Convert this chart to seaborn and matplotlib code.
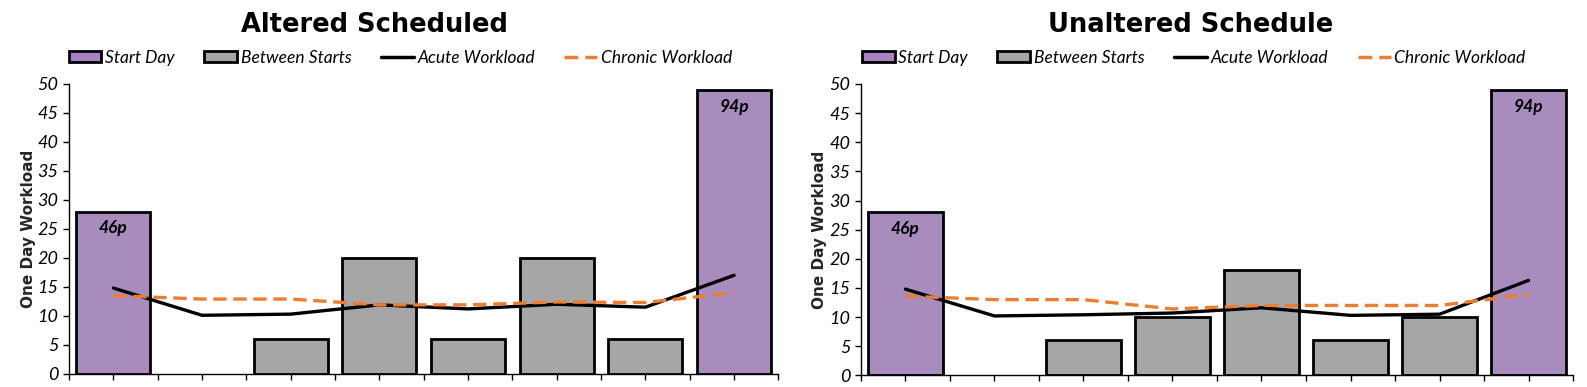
import matplotlib
matplotlib.use("Agg")
import matplotlib.pyplot as plt
import seaborn as sns
import numpy as np
import pandas as pd
from matplotlib.patches import Patch
from matplotlib.lines import Line2D

days = [1, 2, 3, 4, 5, 6, 7, 8]
day_type = ["Start Day", "Between Starts", "Between Starts", "Between Starts",
            "Between Starts", "Between Starts", "Between Starts", "Start Day"]

altered_load = [28, 0, 6, 20, 6, 20, 6, 49]
altered_acute = [14.8, 10.1, 10.3, 11.9, 11.2, 12.0, 11.5, 17.0]
altered_chronic = [13.5, 12.9, 12.9, 11.9, 11.9, 12.4, 12.3, 14.0]

unaltered_load = [28, 0, 6, 10, 18, 6, 10, 49]
unaltered_acute = [14.8, 10.2, 10.4, 10.7, 11.6, 10.3, 10.5, 16.3]
unaltered_chronic = [13.6, 13.0, 13.0, 11.4, 12.0, 12.0, 12.0, 13.9]

pitch_labels = {0: "46p", 7: "94p"}
titles = ["Altered Scheduled", "Unaltered Schedule"]

sns.set_style("white")
plt.rcParams["font.family"] = ["Lato", "DejaVu Sans"]
plt.rcParams["text.color"] = "black"

PURPLE = "#A884C5"
GRAY = "#A6A6A6"
ORANGE = "#ED7D31"
palette = {"Start Day": PURPLE, "Between Starts": GRAY}

fig = plt.figure(figsize=(15.87, 3.87), dpi=100)
axes = [fig.add_axes([0.0435, 0.034, 0.447, 0.749]),
        fig.add_axes([0.5425, 0.030, 0.4487, 0.753])]

panels = [(altered_load, altered_acute, altered_chronic),
          (unaltered_load, unaltered_acute, unaltered_chronic)]
title_x = [0.43, 0.463]

for ax, title, tx, (load, acute, chronic) in zip(axes, titles, title_x, panels):
    df = pd.DataFrame({"day": days, "load": load, "type": day_type,
                       "acute": acute, "chronic": chronic})
    sns.barplot(data=df, x="day", y="load", hue="type", dodge=False,
                palette=palette, width=0.835, edgecolor="black", linewidth=2,
                legend=False, ax=ax)
    # empty days have no visible bar
    for p in ax.patches:
        if p.get_height() == 0:
            p.set_linewidth(0)
    pos = np.arange(len(days))
    sns.lineplot(x=pos, y=df["acute"], color="black", linewidth=2.4, ax=ax)
    sns.lineplot(x=pos, y=df["chronic"], color=ORANGE, linewidth=2.4,
                 linestyle=(0, (4, 2)), ax=ax)

    for i, lab in pitch_labels.items():
        ax.text(i, load[i] - 2.9, lab, ha="center", va="center",
                fontsize=12.5, fontweight="bold", fontstyle="italic")

    ax.set_xlim(-0.5, len(days) - 0.5)
    ax.set_ylim(0, 50)
    ax.set_yticks(range(0, 51, 5))
    ax.set_xticks(np.arange(-0.5, len(days), 0.5))
    ax.set_xticklabels([])
    ax.set_xlabel("")
    ax.set_ylabel("One Day Workload", fontsize=11, fontweight="bold",
                  family=["DejaVu Sans"])
    ax.yaxis.set_label_coords(-0.047, 0.5)
    for lab in ax.get_yticklabels():
        lab.set_fontstyle("italic")
        lab.set_fontsize(13)
        lab.set_color("black")
    ax.tick_params(axis="both", direction="out", length=4, width=1,
                   color="black", left=True, bottom=True, labelcolor="black")
    sns.despine(ax=ax)
    for s in ["left", "bottom"]:
        ax.spines[s].set_color("black")
        ax.spines[s].set_linewidth(1)

    ax.set_title(title, fontsize=18.5, fontweight="bold", x=tx, y=1.18, pad=0,
                 family=["DejaVu Sans"])

    handles = [Patch(facecolor=PURPLE, edgecolor="black", linewidth=2),
               Patch(facecolor=GRAY, edgecolor="black", linewidth=2),
               Line2D([], [], color="black", linewidth=2.5),
               Line2D([], [], color=ORANGE, linewidth=2.5, linestyle=(0, (4, 2)))]
    ax.legend(handles, ["Start Day", "Between Starts", "Acute Workload", "Chronic Workload"],
              loc="center", bbox_to_anchor=(0.467, 1.09), ncol=4, frameon=False,
              handlelength=1.9, handleheight=0.6, handletextpad=0.2,
              columnspacing=1.7, prop={"style": "italic", "size": 12.5})

fig.savefig("out.png", dpi=100)
